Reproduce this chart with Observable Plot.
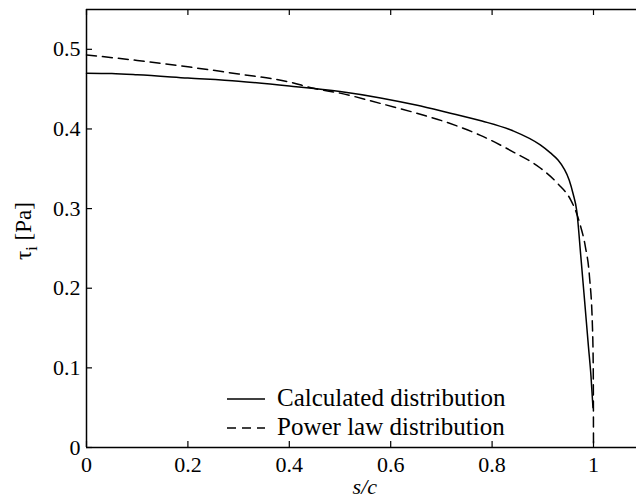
<!DOCTYPE html>
<html><head><meta charset="utf-8">
<script src="https://cdn.jsdelivr.net/npm/d3@7"></script>
<script src="https://cdn.jsdelivr.net/npm/@observablehq/plot@0.6"></script>
<style>body{margin:0;background:#fff}</style>
</head><body><div id="chart"></div>
<script>
// Calculated distribution (solid)
const calcX = [0, 0.05, 0.1, 0.2, 0.3, 0.4, 0.5, 0.58, 0.65, 0.71, 0.78, 0.84, 0.895, 0.915, 0.93, 0.942, 0.952, 0.96, 0.967, 0.975, 0.983, 0.99, 0.995, 0.999];
const calcY = [0.470, 0.4695, 0.468, 0.464, 0.460, 0.454, 0.447, 0.439, 0.430, 0.421, 0.410, 0.398, 0.380, 0.370, 0.361, 0.350, 0.336, 0.318, 0.297, 0.240, 0.180, 0.127, 0.090, 0.050];
// Power law distribution (dashed)
const powX = [0, 0.1, 0.2, 0.3, 0.4, 0.448, 0.5, 0.58, 0.65, 0.712, 0.777, 0.842, 0.895, 0.93, 0.955, 0.965, 0.974, 0.984, 0.992, 0.998, 0.9995, 1.0];
const powY = [0.493, 0.486, 0.478, 0.469, 0.459, 0.451, 0.445, 0.432, 0.420, 0.408, 0.392, 0.371, 0.351, 0.331, 0.311, 0.297, 0.279, 0.252, 0.215, 0.150, 0.10, 0.0];

const seriesNames = ["Calculated distribution", "Power law distribution"];
const xTicks = [0, 0.2, 0.4, 0.6, 0.8, 1];
const xTickLabels = ["0", "0.2", "0.4", "0.6", "0.8", "1"];
const yTicks = [0, 0.1, 0.2, 0.3, 0.4, 0.5];
const yTickLabels = ["0", "0.1", "0.2", "0.3", "0.4", "0.5"];
const xDomain = [0, 1.1];
const yDomain = [0, 0.55];

const W = 636, H = 498, mL = 86, mT = 9, mB = 51, mR = 0;
const pxPerUnit = 507;
const frameH = H - mT - mB, frameW = W - mL - mR;
const font = '"Liberation Serif", "Times New Roman", Tinos, "DejaVu Serif", serif';

const calc = calcX.map((x, i) => ({x, y: calcY[i]}));
const pow = powX.map((x, i) => ({x, y: powY[i]}));

const plot = Plot.plot({
  width: W, height: H,
  marginLeft: mL, marginTop: mT, marginBottom: mB, marginRight: mR,
  style: {fontSize: "21px", color: "black", background: "white", fontFamily: font},
  x: {domain: xDomain, range: [mL, mL + pxPerUnit * xDomain[1]]},
  y: {domain: yDomain},
  marks: [
    Plot.line(calc, {x: "x", y: "y", stroke: "black", strokeWidth: 1.5, curve: "monotone-x"}),
    Plot.line(pow, {x: "x", y: "y", stroke: "black", strokeWidth: 1.5, strokeDasharray: "10,6", curve: "monotone-x"}),
    Plot.ruleY([yDomain[0], yDomain[1]], {stroke: "black", strokeWidth: 1.5}),
    Plot.ruleX([xDomain[0], xDomain[1]], {stroke: "black", strokeWidth: 1.5}),
    Plot.tickX(xTicks, {x: d => d, insetTop: frameH - 6, stroke: "black", strokeWidth: 1.2}),
    Plot.tickX(xTicks, {x: d => d, insetBottom: frameH - 6, stroke: "black", strokeWidth: 1.2}),
    Plot.tickY(yTicks, {y: d => d, insetRight: frameW - 6, stroke: "black", strokeWidth: 1.2}),
    Plot.axisX(xTicks, {tickSize: 0, tickPadding: 9, tickFormat: d => xTickLabels[xTicks.indexOf(d)], fontSize: 22, label: null}),
    Plot.axisY(yTicks, {tickSize: 0, tickPadding: 6, tickFormat: d => yTickLabels[yTicks.indexOf(d)], fontSize: 22, label: null})
  ]
});
document.getElementById("chart").appendChild(plot);

const svg = d3.select(plot);
// y label
const yl = svg.append("text")
  .attr("transform", `translate(31,${mT + frameH / 2 + 3}) rotate(-90)`)
  .attr("text-anchor", "middle")
  .attr("font-size", 23).attr("fill", "black");
yl.append("tspan").text("τ");
yl.append("tspan").attr("dy", 6).attr("font-size", 16).text("i");
yl.append("tspan").attr("dy", -6).text(" [Pa]");
// x label
svg.append("text")
  .attr("x", mL + pxPerUnit * (xDomain[1] / 2)).attr("y", 494)
  .attr("text-anchor", "middle")
  .attr("font-size", 22).attr("font-style", "italic").attr("fill", "black")
  .text("s/c");
// legend
const lg = svg.append("g");
seriesNames.forEach((name, i) => {
  const yy = 399 + i * 29;
  lg.append("line").attr("x1", 227).attr("x2", 265).attr("y1", yy).attr("y2", yy)
    .attr("stroke", "black").attr("stroke-width", 1.5)
    .attr("stroke-dasharray", i === 1 ? "9,6" : null);
  lg.append("text").attr("x", 277).attr("y", yy + 7)
    .attr("text-anchor", "start")
    .attr("font-size", 25).attr("fill", "black")
    .text(name);
});
svg.selectAll("text").style("font-family", font, "important");
</script></body></html>
